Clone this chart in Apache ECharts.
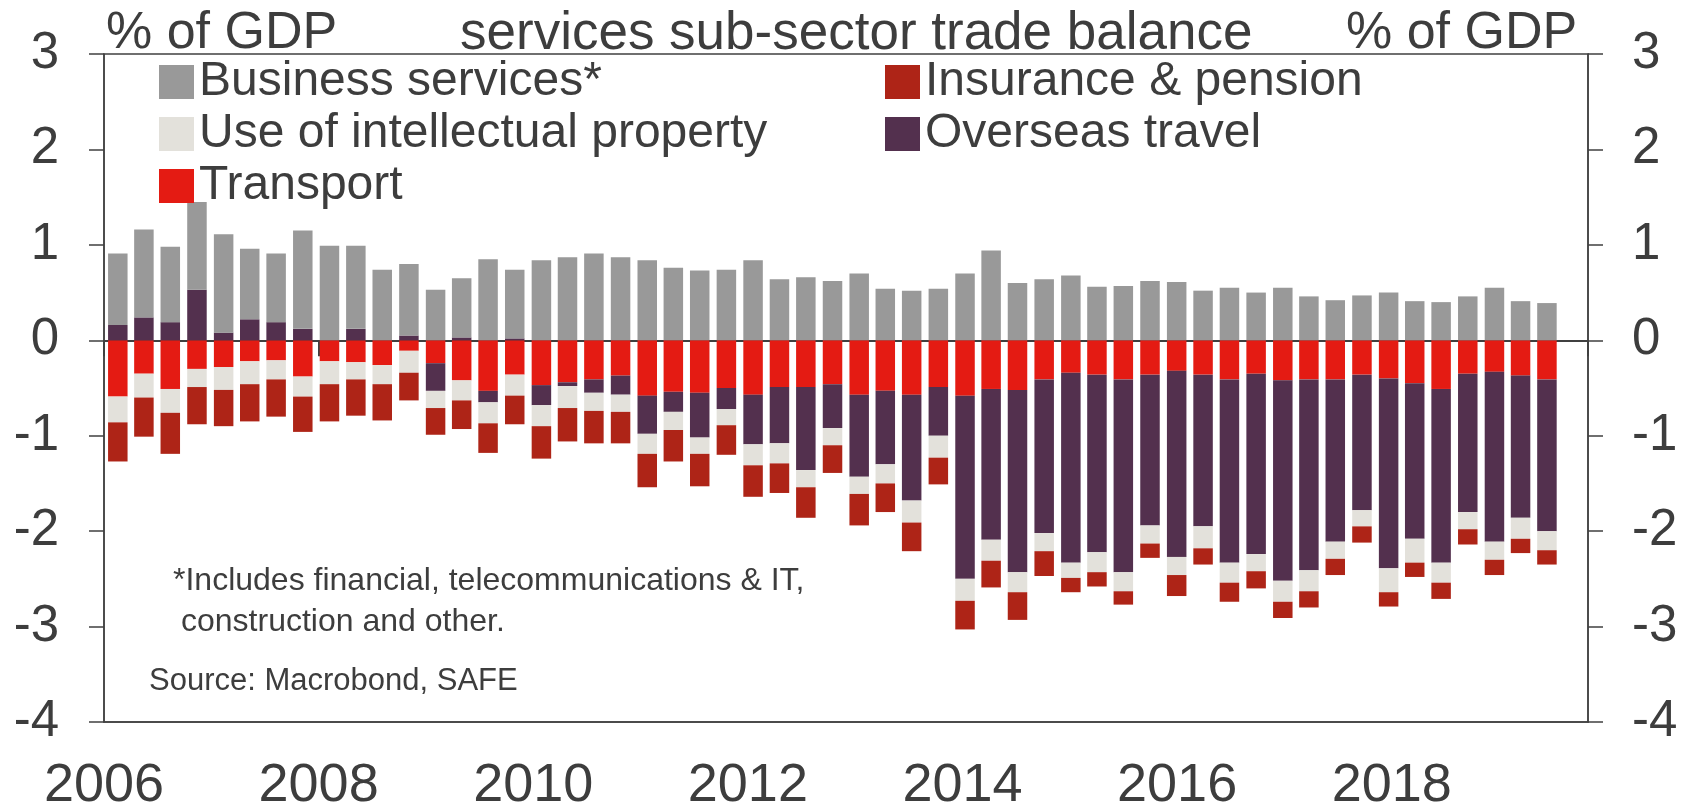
<!DOCTYPE html>
<html style="height: 100%">
<head>
  <meta charset="utf-8">
</head>
<body style="height: 100%; margin: 0">
  <div id="container" style="width: 1696px; height: 808px"></div>

  <script type="text/javascript" src="https://cdn.jsdelivr.net/npm/echarts@6/dist/echarts.min.js"></script>
  <script type="text/javascript">
    // quarterly data, 2006 Q1 .. 2019 Q3, % of GDP
    const quarters = [];
    for (let y = 2006; y <= 2019; y++) {
      for (let q = 1; q <= 4; q++) quarters.push(y + 'Q' + q);
    }
    quarters.length = 55;

    const business = [
      0.75, 0.92, 0.79, 0.92, 1.03, 0.74, 0.72, 1.03, 0.99, 0.87, 0.74, 0.75,
      0.53, 0.62, 0.85, 0.72, 0.84, 0.87, 0.91, 0.87, 0.84, 0.76, 0.73, 0.74,
      0.84, 0.64, 0.66, 0.62, 0.70, 0.54, 0.52, 0.54, 0.70, 0.94, 0.60, 0.64,
      0.68, 0.56, 0.57, 0.62, 0.61, 0.52, 0.55, 0.50, 0.55, 0.46, 0.42, 0.47,
      0.50, 0.41, 0.40, 0.46, 0.55, 0.41, 0.39
    ];
    const transport = [
      -0.59, -0.35, -0.51, -0.30, -0.28, -0.22, -0.21, -0.38, -0.22, -0.23, -0.26, -0.11,
      -0.24, -0.42, -0.53, -0.36, -0.47, -0.44, -0.41, -0.37, -0.58, -0.54, -0.55, -0.50,
      -0.57, -0.49, -0.49, -0.46, -0.57, -0.53, -0.57, -0.49, -0.58, -0.51, -0.52, -0.41,
      -0.34, -0.36, -0.41, -0.36, -0.32, -0.36, -0.41, -0.35, -0.42, -0.41, -0.41, -0.36,
      -0.40, -0.45, -0.51, -0.35, -0.33, -0.37, -0.41
    ];
    const travel = [
      0.16, 0.24, 0.19, 0.53, 0.08, 0.22, 0.19, 0.12, 0, 0.12, 0, 0.05,
      -0.29, 0.03, -0.12, 0.02, -0.21, -0.04, -0.14, -0.20, -0.40, -0.21, -0.47, -0.22,
      -0.52, -0.59, -0.87, -0.46, -0.86, -0.77, -1.11, -0.51, -1.92, -1.58, -1.91, -1.61,
      -1.99, -1.86, -2.02, -1.58, -1.95, -1.59, -1.92, -1.89, -2.10, -2.00, -1.70, -1.42,
      -1.99, -1.63, -1.82, -1.45, -1.78, -1.49, -1.59
    ];
    const property = [
      -0.27, -0.25, -0.25, -0.19, -0.24, -0.24, -0.20, -0.21, -0.24, -0.18, -0.20, -0.23,
      -0.18, -0.21, -0.22, -0.22, -0.22, -0.23, -0.19, -0.18, -0.21, -0.19, -0.17, -0.17,
      -0.22, -0.21, -0.18, -0.18, -0.18, -0.20, -0.23, -0.23, -0.23, -0.22, -0.21, -0.19,
      -0.16, -0.21, -0.20, -0.19, -0.19, -0.23, -0.21, -0.18, -0.22, -0.22, -0.18, -0.17,
      -0.25, -0.25, -0.21, -0.18, -0.19, -0.22, -0.20
    ];
    const insurance = [
      -0.41, -0.41, -0.43, -0.39, -0.38, -0.39, -0.39, -0.37, -0.39, -0.38, -0.38, -0.29,
      -0.28, -0.30, -0.31, -0.30, -0.34, -0.35, -0.34, -0.33, -0.35, -0.33, -0.34, -0.31,
      -0.33, -0.31, -0.32, -0.29, -0.33, -0.30, -0.30, -0.28, -0.30, -0.28, -0.29, -0.26,
      -0.15, -0.15, -0.14, -0.15, -0.22, -0.17, -0.20, -0.18, -0.17, -0.17, -0.17, -0.17,
      -0.15, -0.15, -0.17, -0.16, -0.16, -0.15, -0.15
    ];

    // bars sit about two weeks into each quarter
    function quarterDate(label) {
      return Date.UTC(+label.slice(0, 4), (+label.slice(5) - 1) * 3, 15);
    }
    function pairs(values) {
      return quarters.map(function (q, i) { return [quarterDate(q), values[i]]; });
    }

    const timeMin = Date.UTC(2006, 0, 1);
    const timeMax = Date.UTC(2019, 9, 31);
    const yearMax = 2006 + (timeMax - timeMin) / (365.25 * 864e5);

    const textColor = '#3d3d3d';
    const lineColor = '#404040';
    const font = '"Liberation Sans", Arial, sans-serif';

    var dom = document.getElementById('container');
    var myChart = echarts.init(dom);

    // negative stack order from zero: transport, travel, property, insurance
    var seriesDefs = [
      { name: 'Transport', color: '#e41b13', values: transport },
      { name: 'Overseas travel', color: '#53304e', values: travel },
      { name: 'Use of intellectual property', color: '#e3e1db', values: property },
      { name: 'Insurance & pension', color: '#ae2417', values: insurance },
      { name: 'Business services*', color: '#999999', values: business }
    ];
    var seriesList = seriesDefs.map(function (s) {
      return {
        type: 'bar',
        name: s.name,
        stack: 'total',
        barWidth: 19.5,
        xAxisIndex: 0,
        yAxisIndex: 0,
        itemStyle: { color: s.color },
        data: pairs(s.values)
      };
    });

    var legendCommon = {
      orient: 'vertical',
      top: 58,
      padding: 0,
      itemWidth: 35,
      itemHeight: 34,
      itemGap: 4,
      icon: 'rect',
      selectedMode: false,
      textStyle: { fontSize: 48, color: textColor, fontFamily: font }
    };

    var yAxisCommon = {
      type: 'value',
      min: -4,
      max: 3,
      interval: 1,
      splitLine: { show: false },
      axisLine: { show: true, lineStyle: { color: lineColor, width: 1.5 } },
      axisTick: { show: true, length: 15, lineStyle: { color: lineColor, width: 1.5 } }
    };

    var yearAxis = {
      type: 'value',
      position: 'bottom',
      min: 2006,
      max: yearMax,
      interval: 2,
      splitLine: { show: false }
    };

    var option = {
      backgroundColor: '#ffffff',
      animation: false,
      textStyle: { fontFamily: font },
      grid: {
        left: 104,
        right: 108,
        top: 54,
        bottom: 86,
        outerBoundsMode: 'none',
        show: true,
        borderColor: lineColor,
        borderWidth: 1.5
      },
      legend: [
        Object.assign({}, legendCommon, {
          left: 159,
          data: ['Business services*', 'Use of intellectual property', 'Transport']
        }),
        Object.assign({}, legendCommon, {
          left: 885,
          data: ['Insurance & pension', 'Overseas travel']
        })
      ],
      xAxis: [
        {
          // the bars' own axis, not drawn
          type: 'time',
          min: timeMin,
          max: timeMax,
          show: false
        },
        Object.assign({}, yearAxis, {
          axisLine: { onZero: false, lineStyle: { color: lineColor, width: 1.5 } },
          axisTick: { show: false },
          axisLabel: {
            fontSize: 54,
            color: textColor,
            margin: 37,
            formatter: function (v) { return v % 2 === 0 ? String(v) : ''; }
          }
        }),
        Object.assign({}, yearAxis, {
          axisLine: { onZero: true, onZeroAxisIndex: 0, lineStyle: { color: lineColor, width: 2 } },
          axisTick: { show: true, length: 16, lineStyle: { color: lineColor, width: 2 } },
          axisLabel: { show: false }
        })
      ],
      yAxis: [
        Object.assign({}, yAxisCommon, {
          position: 'left',
          axisLabel: { fontSize: 51, color: textColor, margin: 45 }
        }),
        Object.assign({}, yAxisCommon, {
          position: 'right',
          axisLabel: { fontSize: 51, color: textColor, margin: 44 }
        })
      ],
      graphic: [
        { type: 'text', left: 106, top: 8, style: { text: '% of GDP', fontSize: 52, fill: textColor, fontFamily: font } },
        { type: 'text', left: 460, top: 8, style: { text: 'services sub-sector trade balance', fontSize: 53, fill: textColor, fontFamily: font } },
        { type: 'text', left: 1346, top: 8, style: { text: '% of GDP', fontSize: 52, fill: textColor, fontFamily: font } },
        { type: 'text', left: 173, top: 565, style: { text: '*Includes financial, telecommunications & IT,', fontSize: 32, fill: textColor, fontFamily: font } },
        { type: 'text', left: 181, top: 606, style: { text: 'construction and other.', fontSize: 32, fill: textColor, fontFamily: font } },
        { type: 'text', left: 149, top: 666, style: { text: 'Source: Macrobond, SAFE', fontSize: 31, fill: textColor, fontFamily: font } }
      ],
      series: seriesList
    };

    myChart.setOption(option);
  </script>
</body>
</html>
